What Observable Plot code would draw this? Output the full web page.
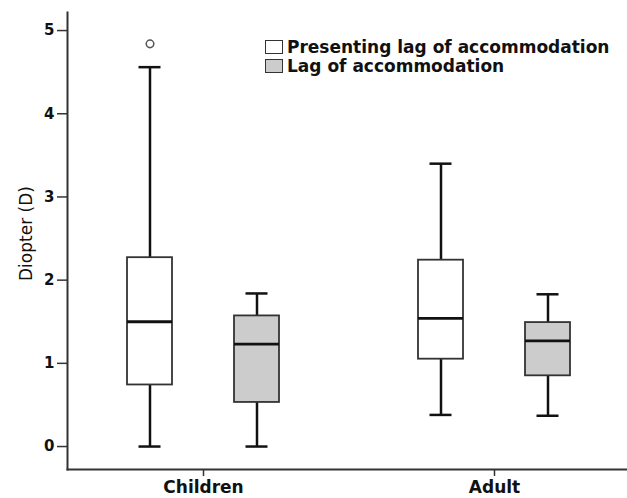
<!DOCTYPE html>
<html><head><meta charset="utf-8">
<script src="https://cdn.jsdelivr.net/npm/d3@7"></script>
<script src="https://cdn.jsdelivr.net/npm/@observablehq/plot@0.6"></script>
<style>
body{margin:0;background:#fff;}
#wrap{position:relative;width:627px;height:498px;overflow:hidden;}
#legend{position:absolute;left:265px;top:37px;font:bold 17px "DejaVu Sans",sans-serif;color:#111;}
.row{display:flex;align-items:center;height:19px;white-space:nowrap;}
.sw{width:16px;height:12px;border:1.5px solid #333;margin-right:4px;box-sizing:content-box;}
</style></head><body><div id="wrap"><div id="legend"></div></div>
<script>
const groups = ["Children", "Adult"];
const series = ["Presenting lag of accommodation", "Lag of accommodation"];
const seriesFill = ["#ffffff", "#cccccc"];
// order: Children-Presenting, Children-Lag, Adult-Presenting, Adult-Lag
const whiskerLow  = [0.00, 0.00, 0.38, 0.37];
const q1          = [0.74, 0.53, 1.05, 0.85];
const median      = [1.50, 1.23, 1.54, 1.27];
const q3          = [2.27, 1.57, 2.24, 1.49];
const whiskerHigh = [4.56, 1.84, 3.40, 1.83];
const outlierGroup  = ["Children"];
const outlierSeries = ["Presenting lag of accommodation"];
const outlierValue  = [4.84];
const yTicks = [0, 1, 2, 3, 4, 5];
const yLabel = "Diopter (D)";

const rows = groups.flatMap((g, i) => series.map((s, j) => {
  const k = i * series.length + j;
  return {group: g, series: s, lo: whiskerLow[k], q1: q1[k], med: median[k], q3: q3[k], hi: whiskerHigh[k]};
}));
const outliers = outlierValue.map((v, i) => ({group: outlierGroup[i], series: outlierSeries[i], value: v}));

const font = "DejaVu Sans";
const chart = Plot.plot({
  width: 627, height: 498,
  marginLeft: 67, marginRight: -3, marginTop: 12, marginBottom: 29,
  style: {background: "white", fontFamily: font, color: "#111", overflow: "visible"},
  fx: {domain: groups, paddingInner: 0.0653, paddingOuter: 0, axis: null},
  x: {domain: series, paddingInner: 0.583, paddingOuter: 0.551, axis: null},
  y: {domain: [-0.276, 5.217], axis: null},
  color: {domain: series, range: seriesFill},
  marks: [
    Plot.frame({anchor: "left", facet: "super", stroke: "#333", strokeWidth: 2}),
    Plot.frame({anchor: "bottom", facet: "super", stroke: "#333", strokeWidth: 2}),
    Plot.axisY({ticks: yTicks, tickFormat: d => String(d), tickSize: 10, tickPadding: 3, fontSize: 15, fontWeight: "bold", label: null, stroke: "#333", strokeWidth: 1.5}),
    Plot.text([yLabel], {frameAnchor: "left", facet: "super", rotate: -90, dx: -41, dy: 40, fontSize: 17, fill: "#111"}),
    Plot.axisFx({anchor: "bottom", tickSize: 7, tickPadding: 4, fontSize: 17, fontWeight: "bold", label: null, stroke: "#333", strokeWidth: 1.5}),
    Plot.ruleX(rows, {fx: "group", x: "series", y1: "lo", y2: "q1", stroke: "#111", strokeWidth: 2.5}),
    Plot.ruleX(rows, {fx: "group", x: "series", y1: "q3", y2: "hi", stroke: "#111", strokeWidth: 2.5}),
    Plot.tickY(rows, {fx: "group", x: "series", y: "lo", stroke: "#111", strokeWidth: 2.5, insetLeft: 11.5, insetRight: 11.5}),
    Plot.tickY(rows, {fx: "group", x: "series", y: "hi", stroke: "#111", strokeWidth: 2.5, insetLeft: 11.5, insetRight: 11.5}),
    Plot.barY(rows, {fx: "group", x: "series", y1: "q1", y2: "q3", fill: "series", stroke: "#333", strokeWidth: 1.8}),
    Plot.tickY(rows, {fx: "group", x: "series", y: "med", stroke: "#111", strokeWidth: 2.8}),
    Plot.dot(outliers, {fx: "group", x: "series", y: "value", r: 3.8, fill: "white", stroke: "#555", strokeWidth: 1.5})
  ]
});
document.getElementById("wrap").prepend(chart);

const legend = document.getElementById("legend");
series.forEach((s, i) => {
  const row = document.createElement("div");
  row.className = "row";
  const sw = document.createElement("span");
  sw.className = "sw";
  sw.style.background = seriesFill[i];
  const t = document.createElement("span");
  t.textContent = s;
  row.append(sw, t);
  legend.append(row);
});
</script></body></html>
